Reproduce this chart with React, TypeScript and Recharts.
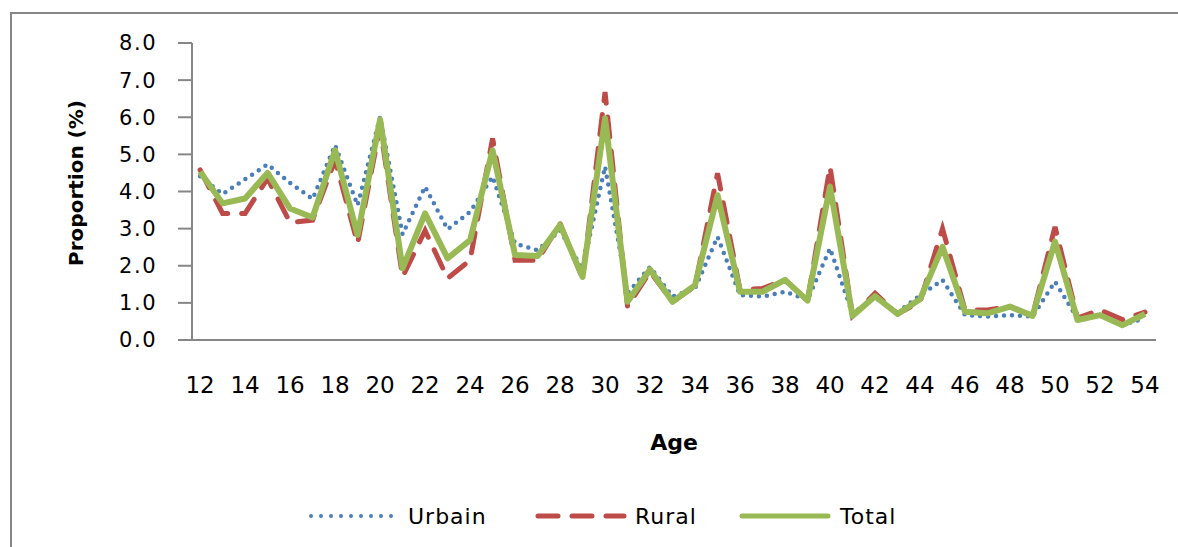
import React from 'react';
import { LineChart, Line, XAxis, YAxis } from 'recharts';

const ages = [
  12, 13, 14, 15, 16, 17, 18, 19, 20, 21, 22, 23, 24, 25, 26, 27, 28, 29, 30, 31, 32,
  33, 34, 35, 36, 37, 38, 39, 40, 41, 42, 43, 44, 45, 46, 47, 48, 49, 50, 51, 52, 53, 54,
];
const urbain = [
  4.41, 3.93, 4.33, 4.73, 4.23, 3.8, 5.25, 3.63, 6.01, 2.85, 4.13, 2.98, 3.45, 4.4, 2.6, 2.42,
  2.95, 1.9, 4.67, 1.26, 1.97, 1.17, 1.39, 2.78, 1.21, 1.17, 1.3, 1.08, 2.47, 0.7, 1.15, 0.74,
  1.2, 1.62, 0.67, 0.63, 0.67, 0.63, 1.57, 0.58, 0.65, 0.4, 0.59,
];
const rural = [
  4.58, 3.41, 3.41, 4.35, 3.16, 3.23, 4.85, 2.6, 5.75, 1.7, 2.95, 1.66, 2.15, 5.43, 2.15, 2.15,
  3.14, 1.66, 6.68, 0.9, 1.84, 1.03, 1.45, 4.49, 1.35, 1.39, 1.62, 1.06, 4.67, 0.65, 1.26, 0.7,
  1.03, 3.0, 0.81, 0.81, 0.9, 0.65, 3.05, 0.59, 0.81, 0.55, 0.75,
];
const total = [
  4.53, 3.68, 3.81, 4.5, 3.54, 3.3, 5.11, 2.83, 5.94, 1.93, 3.41, 2.2, 2.69, 5.11, 2.29, 2.26,
  3.1, 1.7, 5.97, 1.03, 1.9, 1.03, 1.48, 3.9, 1.3, 1.3, 1.62, 1.06, 4.13, 0.65, 1.18, 0.7,
  1.1, 2.51, 0.76, 0.72, 0.9, 0.65, 2.65, 0.54, 0.67, 0.4, 0.7,
];
const xTicks = [12, 14, 16, 18, 20, 22, 24, 26, 28, 30, 32, 34, 36, 38, 40, 42, 44, 46, 48, 50, 52, 54];
const yTicks = [0, 1, 2, 3, 4, 5, 6, 7, 8];

const data = ages.map((age, i) => ({ age, urbain: urbain[i], rural: rural[i], total: total[i] }));

const FONT = '"DejaVu Sans", Verdana, sans-serif';
const GRID = '#868686';
const BLUE = '#4a7ebb';
const RED = '#be4b48';
const GREEN = '#98b954';

const legendItems = [
  { name: 'Urbain', color: BLUE, dash: '0 10', width: 4, x1: 311, x2: 393, tx: 408 },
  { name: 'Rural', color: RED, dash: '20 14', width: 5, x1: 538, x2: 624, tx: 635 },
  { name: 'Total', color: GREEN, dash: undefined, width: 5, x1: 742, x2: 828, tx: 840 },
];

export default function App() {
  return (
    <div style={{ position: 'absolute', left: 0, top: 0, width: 1178, height: 547, overflow: 'hidden', background: '#fff' }}>
      <div
        style={{
          position: 'absolute', left: 10, top: 12, width: 1220, height: 600,
          border: `2px solid ${GRID}`, boxSizing: 'border-box',
        }}
      />
      <LineChart
        width={1178}
        height={547}
        data={data}
        margin={{ top: 43, right: 22, left: 0, bottom: 0 }}
        style={{ position: 'absolute', left: 0, top: 0 }}
      >
        <XAxis
          dataKey="age"
          type="number"
          domain={[11.64, 54.49]}
          ticks={xTicks}
          allowDataOverflow
          height={207}
          axisLine={{ stroke: GRID, strokeWidth: 2 }}
          tickLine={false}
          tickSize={0}
          tickMargin={37}
          tick={{ fontSize: 23, fill: '#000', fontFamily: FONT }}
          label={{
            content: () => (
              <text x={674} y={442} textAnchor="middle" dominantBaseline="central"
                fontFamily={FONT} fontWeight="bold" fontSize={22} fill="#000">
                Age
              </text>
            ),
          }}
        />
        <YAxis
          width={192}
          domain={[0, 8]}
          ticks={yTicks}
          interval={0}
          tickFormatter={(v: number) => v.toFixed(1)}
          axisLine={{ stroke: GRID, strokeWidth: 2 }}
          tickLine={{ stroke: GRID, strokeWidth: 2 }}
          tickSize={14}
          tickMargin={21}
          tick={{ fontSize: 21, fill: '#000', fontFamily: FONT, letterSpacing: 1.5 }}
          label={{
            content: () => (
              <text x={76} y={183} transform="rotate(-90 76 183)" textAnchor="middle"
                dominantBaseline="central" fontFamily={FONT} fontWeight="bold" fontSize={20} fill="#000">
                Proportion (%)
              </text>
            ),
          }}
        />
        <Line dataKey="urbain" name="Urbain" stroke={BLUE} strokeWidth={4.5} strokeDasharray="0 8"
          strokeLinecap="round" dot={false} isAnimationActive={false} />
        <Line dataKey="rural" name="Rural" stroke={RED} strokeWidth={5} strokeDasharray="20 14"
          strokeLinecap="round" dot={false} isAnimationActive={false} />
        <Line dataKey="total" name="Total" stroke={GREEN} strokeWidth={6} strokeLinejoin="round"
          dot={false} isAnimationActive={false} />
      </LineChart>
      <svg width={1178} height={547} style={{ position: 'absolute', left: 0, top: 0, pointerEvents: 'none' }}>
        {legendItems.map((it) => (
          <g key={it.name}>
            <line x1={it.x1} x2={it.x2} y1={516} y2={516} stroke={it.color} strokeWidth={it.width}
              strokeDasharray={it.dash} strokeLinecap="round" />
            <text x={it.tx} y={516} dominantBaseline="central" fontFamily={FONT} fontSize={22}
              letterSpacing={1} fill="#000">
              {it.name}
            </text>
          </g>
        ))}
      </svg>
    </div>
  );
}
